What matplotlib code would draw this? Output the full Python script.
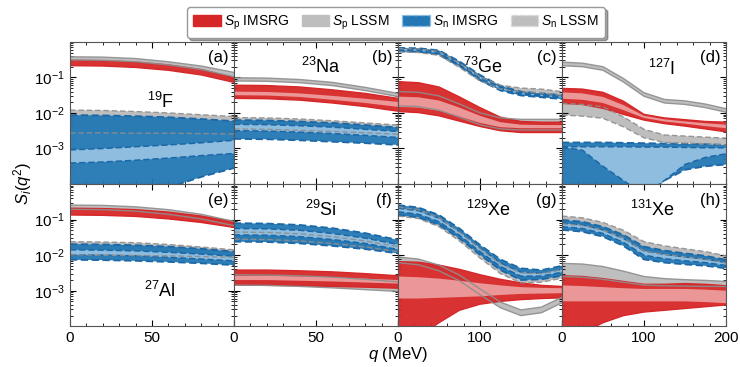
import numpy as np
import matplotlib
matplotlib.use("Agg")
import matplotlib.pyplot as plt
import matplotlib.patches as mpatches
from matplotlib.ticker import FixedLocator, MultipleLocator, LogLocator, NullFormatter, FuncFormatter

plt.rcParams['font.family'] = ['Liberation Sans', 'DejaVu Sans']
plt.rcParams['mathtext.fontset'] = 'custom'
plt.rcParams['mathtext.rm'] = 'Liberation Sans'
plt.rcParams['mathtext.it'] = 'Liberation Sans:italic'

# ---------------- data (log10 of S_i(q^2)) ----------------
q_light = [0, 20, 40, 60, 80, 100]
q_heavy = [0, 25, 50, 75, 100, 125, 150, 175, 200]

labels = ['(a)', '(b)', '(c)', '(d)', '(e)', '(f)', '(g)', '(h)']
nuclei = [r'$^{19}$F', r'$^{23}$Na', r'$^{73}$Ge', r'$^{127}$I',
          r'$^{27}$Al', r'$^{29}$Si', r'$^{129}$Xe', r'$^{131}$Xe']

# 19F
F19_sp_out = [[-0.52, -0.53, -0.57, -0.65, -0.78, -1.01], [-0.67, -0.68, -0.72, -0.80, -0.93, -1.14]]
F19_sp_in = None
F19_sp_lssm = [[-0.42, -0.43, -0.47, -0.56, -0.68, -0.86], [-0.51, -0.52, -0.56, -0.65, -0.78, -0.98]]
F19_sn_out = [[-2.06, -2.07, -2.09, -2.12, -2.17, -2.23], [-4.5, -4.4, -4.25, -4.1, -3.8, -3.55]]
F19_sn_in = [[-3.04, -3.00, -2.95, -2.90, -2.84, -2.77], [-3.41, -3.38, -3.33, -3.27, -3.20, -3.14]]
F19_sn_lssm = [[-1.92, -1.93, -1.96, -2.00, -2.05, -2.10], [-2.56, -2.56, -2.57, -2.57, -2.58, -2.59]]

# 23Na
Na23_sp_out = [[-1.22, -1.23, -1.27, -1.35, -1.45, -1.59], [-1.59, -1.60, -1.64, -1.72, -1.82, -1.95]]
Na23_sp_in = [[-1.40, -1.41, -1.45, -1.52, -1.60, -1.69], [-1.50, -1.51, -1.55, -1.63, -1.72, -1.83]]
Na23_sp_lssm = [[-1.01, -1.02, -1.06, -1.14, -1.28, -1.45], [-1.10, -1.11, -1.15, -1.23, -1.37, -1.54]]
Na23_sn_out = [[-2.20, -2.21, -2.24, -2.28, -2.34, -2.41], [-2.73, -2.74, -2.77, -2.81, -2.85, -2.90]]
Na23_sn_in = [[-2.32, -2.33, -2.36, -2.40, -2.46, -2.52], [-2.50, -2.51, -2.54, -2.58, -2.63, -2.69]]
Na23_sn_lssm = [[-2.13, -2.14, -2.17, -2.22, -2.28, -2.34], [-2.45, -2.46, -2.49, -2.52, -2.56, -2.60]]

# 73Ge
Ge73_sp_out = [[-1.12, -1.15, -1.27, -1.55, -1.85, -2.12, -2.24, -2.26, -2.26], [-1.96, -1.99, -2.08, -2.23, -2.38, -2.50, -2.55, -2.55, -2.55]]
Ge73_sp_in = [[-1.54, -1.56, -1.65, -1.85, -2.08, -2.26, -2.33, -2.34, -2.34], [-1.83, -1.85, -1.94, -2.10, -2.28, -2.40, -2.43, -2.43, -2.43]]
Ge73_sp_lssm = [[-1.40, -1.42, -1.52, -1.75, -2.00, -2.14, -2.18, -2.18, -2.18], [-1.80, -1.82, -1.92, -2.12, -2.33, -2.45, -2.48, -2.48, -2.48]]
Ge73_sn_out = [[-0.17, -0.18, -0.24, -0.55, -0.93, -1.24, -1.40, -1.45, -1.50], [-0.27, -0.28, -0.36, -0.68, -1.08, -1.37, -1.51, -1.56, -1.61]]
Ge73_sn_in = [[-0.20, -0.21, -0.28, -0.59, -0.98, -1.28, -1.44, -1.49, -1.54], [-0.24, -0.25, -0.32, -0.64, -1.03, -1.33, -1.47, -1.52, -1.57]]
Ge73_sn_lssm = [[-0.19, -0.20, -0.27, -0.60, -0.98, -1.22, -1.30, -1.33, -1.40], [-0.28, -0.30, -0.38, -0.72, -1.10, -1.33, -1.40, -1.44, -1.50]]

# 127I
I127_sp_out = [[-1.31, -1.33, -1.42, -1.67, -2.04, -2.14, -2.19, -2.24, -2.26], [-1.73, -1.76, -1.87, -2.04, -2.20, -2.30, -2.37, -2.45, -2.53]]
I127_sp_in = [[-1.42, -1.45, -1.55, -1.78, -2.08, -2.18, -2.24, -2.29, -2.33], [-1.60, -1.63, -1.72, -1.92, -2.14, -2.24, -2.30, -2.37, -2.43]]
I127_sp_lssm = [[-0.57, -0.60, -0.70, -1.03, -1.43, -1.62, -1.66, -1.75, -1.88], [-0.67, -0.70, -0.80, -1.13, -1.53, -1.72, -1.76, -1.85, -1.98]]
I127_sn_out = [[-2.83, -2.83, -2.83, -2.84, -2.85, -2.86, -2.87, -2.88, -2.90], [-4.5, -4.5, -4.5, -4.45, -4.3, -3.9, -3.6, -3.5, -3.45]]
I127_sn_in = [[-2.95, -2.95, -2.95, -2.95, -2.96, -2.96, -2.97, -2.98, -2.98], [-2.96, -3.05, -3.50, -3.90, -4.30, -3.90, -3.45, -3.25, -3.15]]
I127_sn_lssm = [[-1.73, -1.76, -1.83, -2.11, -2.46, -2.62, -2.65, -2.68, -2.71], [-2.06, -2.09, -2.15, -2.39, -2.70, -2.83, -2.85, -2.87, -2.90]]

# 27Al
Al27_sp_out = [[-0.68, -0.69, -0.72, -0.79, -0.90, -1.06], [-0.87, -0.88, -0.91, -0.98, -1.08, -1.22]]
Al27_sp_in = None
Al27_sp_lssm = [[-0.59, -0.60, -0.64, -0.72, -0.85, -1.05], [-0.71, -0.72, -0.76, -0.85, -0.98, -1.17]]
Al27_sn_out = [[-1.69, -1.70, -1.72, -1.76, -1.82, -1.90], [-2.13, -2.14, -2.16, -2.19, -2.23, -2.28]]
Al27_sn_in = [[-1.85, -1.86, -1.88, -1.92, -1.97, -2.03], [-1.99, -2.00, -2.02, -2.06, -2.11, -2.16]]
Al27_sn_lssm = [[-1.62, -1.63, -1.65, -1.70, -1.77, -1.85], [-1.99, -2.00, -2.01, -2.02, -2.04, -2.06]]

# 29Si
Si29_sp_out = [[-2.42, -2.42, -2.44, -2.47, -2.52, -2.58], [-2.84, -2.85, -2.86, -2.88, -2.90, -2.93]]
Si29_sp_in = [[-2.58, -2.58, -2.60, -2.62, -2.66, -2.70], [-2.70, -2.70, -2.72, -2.74, -2.77, -2.80]]
Si29_sp_lssm = [[-2.55, -2.56, -2.58, -2.62, -2.68, -2.75], [-2.84, -2.85, -2.88, -2.92, -2.97, -3.02]]
Si29_sn_out = [[-1.10, -1.11, -1.15, -1.24, -1.38, -1.57], [-1.62, -1.63, -1.67, -1.74, -1.83, -1.95]]
Si29_sn_in = [[-1.25, -1.26, -1.30, -1.39, -1.52, -1.70], [-1.43, -1.44, -1.48, -1.56, -1.67, -1.84]]
Si29_sn_lssm = [[-1.35, -1.36, -1.40, -1.48, -1.60, -1.76], [-1.55, -1.56, -1.60, -1.67, -1.77, -1.90]]

# 129Xe
Xe129_sp_out = [[-2.18, -2.20, -2.28, -2.40, -2.55, -2.68, -2.78, -2.85, -2.88], [-4.5, -4.3, -3.9, -3.55, -3.38, -3.30, -3.25, -3.22, -3.20]]
Xe129_sp_in = [[-2.60, -2.62, -2.66, -2.72, -2.79, -2.85, -2.90, -2.92, -2.93], [-3.22, -3.22, -3.20, -3.18, -3.16, -3.12, -3.09, -3.08, -3.07]]
Xe129_sp_lssm = [[-2.05, -2.11, -2.28, -2.56, -2.95, -3.32, -3.54, -3.46, -3.18], [-2.21, -2.27, -2.44, -2.72, -3.11, -3.48, -3.70, -3.62, -3.34]]
Xe129_sn_out = [[-0.59, -0.66, -0.87, -1.25, -1.71, -2.12, -2.37, -2.42, -2.30], [-0.87, -0.94, -1.15, -1.53, -1.99, -2.42, -2.70, -2.68, -2.58]]
Xe129_sn_in = [[-0.68, -0.75, -0.96, -1.34, -1.80, -2.22, -2.48, -2.51, -2.40], [-0.78, -0.85, -1.06, -1.44, -1.90, -2.32, -2.59, -2.59, -2.48]]
Xe129_sn_lssm = [[-0.65, -0.72, -0.95, -1.35, -1.82, -2.25, -2.50, -2.52, -2.40], [-0.90, -0.97, -1.20, -1.60, -2.08, -2.52, -2.78, -2.76, -2.65]]

# 131Xe
Xe131_sp_out = [[-2.58, -2.60, -2.66, -2.74, -2.82, -2.82, -2.80, -2.82, -2.86], [-4.5, -4.2, -3.9, -3.7, -3.6, -3.55, -3.50, -3.45, -3.40]]
Xe131_sp_in = [[-2.85, -2.87, -2.90, -2.93, -2.95, -2.95, -2.95, -2.97, -3.00], [-3.30, -3.30, -3.30, -3.30, -3.30, -3.30, -3.30, -3.32, -3.35]]
Xe131_sp_lssm = [[-2.23, -2.25, -2.32, -2.45, -2.60, -2.66, -2.69, -2.71, -2.74], [-2.60, -2.62, -2.68, -2.76, -2.84, -2.86, -2.87, -2.88, -2.88]]
Xe131_sn_out = [[-1.01, -1.06, -1.20, -1.43, -1.76, -1.87, -1.95, -2.02, -2.13], [-1.29, -1.34, -1.48, -1.74, -2.12, -2.21, -2.26, -2.30, -2.37]]
Xe131_sn_in = [[-1.10, -1.15, -1.29, -1.53, -1.88, -1.98, -2.05, -2.11, -2.21], [-1.20, -1.25, -1.39, -1.64, -2.00, -2.10, -2.16, -2.21, -2.29]]
Xe131_sn_lssm = [[-0.90, -0.95, -1.08, -1.30, -1.62, -1.74, -1.82, -1.90, -2.02], [-1.12, -1.17, -1.30, -1.52, -1.88, -1.98, -2.05, -2.12, -2.22]]

panels = [
    (q_light, F19_sp_out, F19_sp_in, F19_sp_lssm, F19_sn_out, F19_sn_in, F19_sn_lssm),
    (q_light, Na23_sp_out, Na23_sp_in, Na23_sp_lssm, Na23_sn_out, Na23_sn_in, Na23_sn_lssm),
    (q_heavy, Ge73_sp_out, Ge73_sp_in, Ge73_sp_lssm, Ge73_sn_out, Ge73_sn_in, Ge73_sn_lssm),
    (q_heavy, I127_sp_out, I127_sp_in, I127_sp_lssm, I127_sn_out, I127_sn_in, I127_sn_lssm),
    (q_light, Al27_sp_out, Al27_sp_in, Al27_sp_lssm, Al27_sn_out, Al27_sn_in, Al27_sn_lssm),
    (q_light, Si29_sp_out, Si29_sp_in, Si29_sp_lssm, Si29_sn_out, Si29_sn_in, Si29_sn_lssm),
    (q_heavy, Xe129_sp_out, Xe129_sp_in, Xe129_sp_lssm, Xe129_sn_out, Xe129_sn_in, Xe129_sn_lssm),
    (q_heavy, Xe131_sp_out, Xe131_sp_in, Xe131_sp_lssm, Xe131_sn_out, Xe131_sn_in, Xe131_sn_lssm),
]
nuc_pos = [(0.55, 0.58), (0.53, 0.82), (0.52, 0.82), (0.61, 0.81),
           (0.55, 0.25), (0.53, 0.82), (0.55, 0.82), (0.55, 0.82)]

# ---------------- style ----------------
RED, RED_L = '#d62728', '#ec9797'
BLUE, BLUE_L, BLUE_E = '#2277b4', '#8fbddf', '#1c68a6'
GREY, GREY_E = '#bebebe', '#8e8e8e'
DASH = (0, (4, 2))

fig, axes = plt.subplots(2, 4, figsize=(7.4, 3.67), dpi=100)
fig.subplots_adjust(left=0.0946, right=0.981, top=0.886, bottom=0.111, wspace=0, hspace=0)


def band(ax, q, hl, face, edge, ls, z, lw=1.0, alpha=1.0):
    hi = 10 ** np.asarray(hl[0], float)
    lo = 10 ** np.asarray(hl[1], float)
    ax.fill_between(q, lo, hi, facecolor=face, edgecolor='none', zorder=z, alpha=alpha)
    if edge is not None:
        ax.plot(q, hi, color=edge, ls=ls, lw=lw, zorder=z + 0.5)
        ax.plot(q, lo, color=edge, ls=ls, lw=lw, zorder=z + 0.5)


for i, ax in enumerate(axes.flat):
    q, sp_out, sp_in, sp_lssm, sn_out, sn_in, sn_lssm = panels[i]
    # LSSM fills behind
    band(ax, q, sp_lssm, GREY, None, '-', 1)
    band(ax, q, sn_lssm, GREY, None, '--', 1)
    # IMSRG
    band(ax, q, sp_out, RED, RED, '-', 2, lw=1.0, alpha=0.95)
    if sp_in is not None:
        band(ax, q, sp_in, RED_L, None, '-', 2.6)
    band(ax, q, sn_out, BLUE, BLUE_E, DASH, 3, lw=1.3, alpha=0.95)
    if sn_in is not None:
        band(ax, q, sn_in, BLUE_L, BLUE_E, DASH, 3.6, lw=1.1)
    # LSSM edges on top
    for hl, ls in ((sp_lssm, '-'), (sn_lssm, DASH)):
        ax.plot(q, 10 ** np.asarray(hl[0]), color=GREY_E, ls=ls, lw=1.0, zorder=5, alpha=0.9)
        ax.plot(q, 10 ** np.asarray(hl[1]), color=GREY_E, ls=ls, lw=1.0, zorder=5, alpha=0.9)

    ax.set_yscale('log')
    ax.set_ylim(1e-4, 1)
    qmax = q[-1]
    ax.set_xlim(0, qmax)
    if qmax == 100:
        ax.xaxis.set_major_locator(FixedLocator([0, 50, 100]))
        ax.xaxis.set_minor_locator(MultipleLocator(10))
    else:
        ax.xaxis.set_major_locator(FixedLocator([0, 100, 200]))
        ax.xaxis.set_minor_locator(MultipleLocator(20))
    ax.yaxis.set_major_locator(FixedLocator([1e-3, 1e-2, 1e-1]))
    ax.yaxis.set_minor_locator(LogLocator(base=10, subs=np.arange(2, 10), numticks=20))
    ax.yaxis.set_minor_formatter(NullFormatter())
    ax.tick_params(which='both', direction='in', top=True, right=True, labelsize=11)
    ax.tick_params(which='major', length=4)
    ax.tick_params(which='minor', length=2.5)
    col = i % 4
    row = i // 4
    if col != 0:
        ax.tick_params(labelleft=False)
    if row == 0:
        ax.tick_params(labelbottom=False)
    else:
        def fmt(v, pos, qm=qmax, keep_last=(col == 3)):
            if abs(v - qm) < 1e-6 and not keep_last:
                return ''
            return '%d' % v
        ax.xaxis.set_major_formatter(FuncFormatter(fmt))
    for sp in ax.spines.values():
        sp.set_color('#555555')
        sp.set_zorder(10)
    ax.text(0.965, 0.94, labels[i], transform=ax.transAxes, ha='right', va='top', fontsize=12, zorder=12)
    ax.text(nuc_pos[i][0], nuc_pos[i][1], nuclei[i], transform=ax.transAxes, ha='center', va='center',
            fontsize=13, zorder=12)

fig.text(0.538, 0.035, r'$q$ (MeV)', ha='center', va='center', fontsize=12)
fig.text(0.03, 0.5, r'$S_i(q^2)$', ha='center', va='center', rotation=90, fontsize=12)

handles = [
    mpatches.Patch(facecolor=RED, edgecolor=RED, label=r'$S_\mathrm{p}$ IMSRG'),
    mpatches.Patch(facecolor=GREY, edgecolor=GREY, label=r'$S_\mathrm{p}$ LSSM'),
    mpatches.Patch(facecolor=BLUE, edgecolor=BLUE_L, linestyle='--', label=r'$S_\mathrm{n}$ IMSRG'),
    mpatches.Patch(facecolor=GREY, edgecolor='#d9d9d9', linestyle='--', label=r'$S_\mathrm{n}$ LSSM'),
]
leg = fig.legend(handles=handles, loc='upper center', bbox_to_anchor=(0.535, 1.0), ncol=4, fontsize=10,
                 handlelength=2.0, handleheight=0.9, handletextpad=0.2, columnspacing=0.9, fancybox=True,
                 shadow=True, borderpad=0.45, framealpha=1)
leg.get_frame().set_edgecolor('#999999')

fig.savefig('out.png', dpi=100)
